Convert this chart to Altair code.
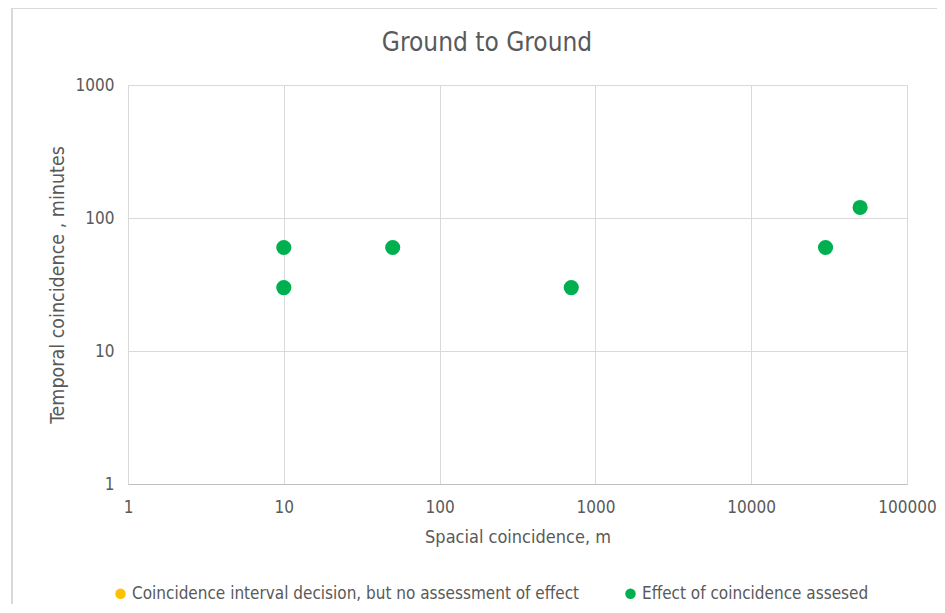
import altair as alt
import pandas as pd

# Data
spatial_m = [10, 10, 50, 700, 30000, 50000]
temporal_min = [60, 30, 60, 30, 60, 120]
category = ["Effect of coincidence assesed"] * 6

legend_labels = ["Coincidence interval decision, but no assessment of effect",
                 "Effect of coincidence assesed"]
legend_colors = ["#FFC000", "#00B050"]

x_ticks = [1, 10, 100, 1000, 10000, 100000]
y_ticks = [1, 10, 100, 1000]
chart_title = ["Ground to Ground"]

df = pd.DataFrame({"x": spatial_m, "y": temporal_min, "cat": category})

FONT = "Liberation Sans Narrow, DejaVu Sans Condensed, sans-serif"
GRAY = "#595959"
GRID = "#d9d9d9"

points = alt.Chart(df).mark_circle(size=230, opacity=1).encode(
    x=alt.X("x:Q",
            scale=alt.Scale(type="log", domain=[1, 100000], nice=False),
            axis=alt.Axis(values=x_ticks, format="d", title="Spacial coincidence, m",
                          grid=True, gridColor=GRID, domainColor="#bfbfbf", ticks=False,
                          labelFlush=False, labelOverlap=False,
                          labelPadding=15, labelFontSize=17, labelColor=GRAY,
                          titleFontSize=18, titleColor=GRAY, titleFontWeight="normal",
                          titlePadding=13, labelFont=FONT, titleFont=FONT)),
    y=alt.Y("y:Q",
            scale=alt.Scale(type="log", domain=[1, 1000], nice=False),
            axis=alt.Axis(values=y_ticks, format="d", title="Temporal coincidence ,  minutes",
                          grid=True, gridColor=GRID, domainColor=GRID, ticks=False,
                          labelFlush=False, labelOverlap=False,
                          labelPadding=14, labelFontSize=17, labelColor=GRAY,
                          titleFontSize=19.5, titleColor=GRAY, titleFontWeight="normal",
                          titlePadding=8, labelFont=FONT, titleFont=FONT)),
    color=alt.Color("cat:N",
                    scale=alt.Scale(domain=legend_labels, range=legend_colors),
                    legend=alt.Legend(title=None, orient="none", legendX=-16, legendY=500,
                                      direction="horizontal", columns=2, columnPadding=42,
                                      symbolType="circle", symbolSize=110, symbolStrokeWidth=0,
                                      labelFontSize=17, labelColor=GRAY, labelFont=FONT,
                                      labelLimit=700, labelOffset=3)),
)

title = alt.Chart(pd.DataFrame({"t": chart_title})).mark_text(
    font=FONT, fontSize=26, color=GRAY, align="center", baseline="middle"
).encode(text="t:N", x=alt.value(359), y=alt.value(-42))

border = alt.Chart(pd.DataFrame({"k": [0]})).mark_rule(color=GRID, strokeWidth=2).encode(
    x=alt.value(-116), y=alt.value(-77), y2=alt.value(528)
)
border_top = alt.Chart(pd.DataFrame({"k": [0]})).mark_rule(color=GRID, strokeWidth=2).encode(
    x=alt.value(-116), x2=alt.value(840), y=alt.value(-77)
)

chart = alt.layer(border, border_top, title, points).properties(
    width=779, height=399,
    autosize=alt.AutoSizeParams(type="none"),
    padding={"left": 120, "top": 77, "right": 30, "bottom": 120},
).configure_view(stroke=None)

chart.save("out.html", embed_options={"renderer": "svg", "actions": False})
